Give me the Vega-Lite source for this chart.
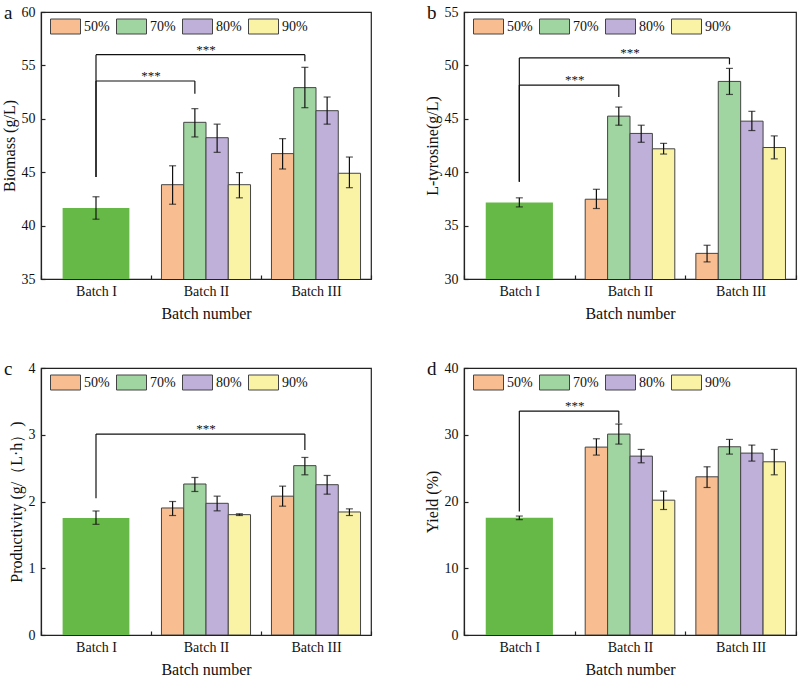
{
  "$schema": "https://vega.github.io/schema/vega-lite/v6.json",
  "padding": {"left": 0, "top": 3, "right": 2, "bottom": 0},
  "config": {
    "view": {"stroke": "#222", "strokeWidth": 1.2},
    "font": "Liberation Serif",
    "axis": {"domainColor": "#222", "domainWidth": 1.2, "tickColor": "#222", "tickWidth": 1.2, "labelFont": "Liberation Serif", "labelFontSize": 14, "labelColor": "#111", "titleFont": "Liberation Serif", "titleFontSize": 16, "titleFontWeight": "normal", "titleColor": "#111", "grid": false},
    "axisX": {"tickBand": "extent", "tickSize": -4, "labelAngle": 0, "labelPadding": 9, "titlePadding": 7},
    "axisY": {"tickSize": -4, "labelPadding": 10, "titlePadding": 4},
    "legend": {"orient": "none", "direction": "horizontal", "columns": 4, "symbolType": "M-1,-0.5H1V0.5H-1Z", "symbolSize": 900, "symbolStrokeColor": "#444", "symbolStrokeWidth": 1, "symbolOpacity": 1, "labelFont": "Liberation Serif", "labelFontSize": 14, "labelColor": "#111", "labelOffset": 3, "columnPadding": 4},
    "title": {"font": "Liberation Serif", "fontSize": 19, "fontWeight": "normal", "color": "#111", "anchor": "start", "frame": "group", "offset": -18, "baseline": "alphabetic", "dx": -37, "dy": 0}
  },
  "datasets": {
    "bars": [
      {"panel": "a", "batch": "Batch I", "conc": "ctrl", "value": 41.65, "lo": 40.6, "hi": 42.7},
      {"panel": "a", "batch": "Batch II", "conc": "50%", "value": 43.83, "lo": 42.0, "hi": 45.6},
      {"panel": "a", "batch": "Batch II", "conc": "70%", "value": 49.67, "lo": 48.3, "hi": 50.95},
      {"panel": "a", "batch": "Batch II", "conc": "80%", "value": 48.23, "lo": 46.86, "hi": 49.5},
      {"panel": "a", "batch": "Batch II", "conc": "90%", "value": 43.83, "lo": 42.6, "hi": 44.96},
      {"panel": "a", "batch": "Batch III", "conc": "50%", "value": 46.74, "lo": 45.3, "hi": 48.14},
      {"panel": "a", "batch": "Batch III", "conc": "70%", "value": 52.92, "lo": 51.04, "hi": 54.82},
      {"panel": "a", "batch": "Batch III", "conc": "80%", "value": 50.76, "lo": 49.5, "hi": 52.04},
      {"panel": "a", "batch": "Batch III", "conc": "90%", "value": 44.9, "lo": 43.55, "hi": 46.42},
      {"panel": "b", "batch": "Batch I", "conc": "ctrl", "value": 37.16, "lo": 36.75, "hi": 37.6},
      {"panel": "b", "batch": "Batch II", "conc": "50%", "value": 37.47, "lo": 36.6, "hi": 38.4},
      {"panel": "b", "batch": "Batch II", "conc": "70%", "value": 45.25, "lo": 44.4, "hi": 46.1},
      {"panel": "b", "batch": "Batch II", "conc": "80%", "value": 43.63, "lo": 42.8, "hi": 44.4},
      {"panel": "b", "batch": "Batch II", "conc": "90%", "value": 42.19, "lo": 41.7, "hi": 42.7},
      {"panel": "b", "batch": "Batch III", "conc": "50%", "value": 32.4, "lo": 31.6, "hi": 33.16},
      {"panel": "b", "batch": "Batch III", "conc": "70%", "value": 48.5, "lo": 47.28, "hi": 49.72},
      {"panel": "b", "batch": "Batch III", "conc": "80%", "value": 44.78, "lo": 43.9, "hi": 45.7},
      {"panel": "b", "batch": "Batch III", "conc": "90%", "value": 42.31, "lo": 41.25, "hi": 43.4},
      {"panel": "c", "batch": "Batch I", "conc": "ctrl", "value": 1.753, "lo": 1.658, "hi": 1.858},
      {"panel": "c", "batch": "Batch II", "conc": "50%", "value": 1.903, "lo": 1.79, "hi": 2.0},
      {"panel": "c", "batch": "Batch II", "conc": "70%", "value": 2.262, "lo": 2.15, "hi": 2.36},
      {"panel": "c", "batch": "Batch II", "conc": "80%", "value": 1.973, "lo": 1.86, "hi": 2.08},
      {"panel": "c", "batch": "Batch II", "conc": "90%", "value": 1.803, "lo": 1.79, "hi": 1.816},
      {"panel": "c", "batch": "Batch III", "conc": "50%", "value": 2.08, "lo": 1.93, "hi": 2.23},
      {"panel": "c", "batch": "Batch III", "conc": "70%", "value": 2.537, "lo": 2.4, "hi": 2.66},
      {"panel": "c", "batch": "Batch III", "conc": "80%", "value": 2.252, "lo": 2.11, "hi": 2.39},
      {"panel": "c", "batch": "Batch III", "conc": "90%", "value": 1.843, "lo": 1.79, "hi": 1.89},
      {"panel": "d", "batch": "Batch I", "conc": "ctrl", "value": 17.55, "lo": 17.28, "hi": 17.82},
      {"panel": "d", "batch": "Batch II", "conc": "50%", "value": 28.15, "lo": 26.95, "hi": 29.4},
      {"panel": "d", "batch": "Batch II", "conc": "70%", "value": 30.1, "lo": 28.6, "hi": 31.6},
      {"panel": "d", "batch": "Batch II", "conc": "80%", "value": 26.8, "lo": 25.8, "hi": 27.8},
      {"panel": "d", "batch": "Batch II", "conc": "90%", "value": 20.2, "lo": 18.8, "hi": 21.55},
      {"panel": "d", "batch": "Batch III", "conc": "50%", "value": 23.7, "lo": 22.1, "hi": 25.2},
      {"panel": "d", "batch": "Batch III", "conc": "70%", "value": 28.2, "lo": 27.1, "hi": 29.3},
      {"panel": "d", "batch": "Batch III", "conc": "80%", "value": 27.25, "lo": 26.05, "hi": 28.45},
      {"panel": "d", "batch": "Batch III", "conc": "90%", "value": 25.95, "lo": 24.0, "hi": 27.8}
    ],
    "brackets": [
      {"panel": "a", "batch": "Batch I", "to": "Batch III", "conc": "70%", "star": "Batch II", "ylo": 44.55, "ytop": 56.0, "yend": 55.4, "label": "***"},
      {"panel": "a", "batch": "Batch I", "to": "Batch II", "conc": "70%", "star": "Batch II", "ylo": 44.55, "ytop": 53.54, "yend": 52.35, "label": "***"},
      {"panel": "b", "batch": "Batch I", "to": "Batch III", "conc": "70%", "star": "Batch II", "ylo": 39.1, "ytop": 50.7, "yend": 50.1, "label": "***"},
      {"panel": "b", "batch": "Batch I", "to": "Batch II", "conc": "70%", "star": "Batch II", "ylo": 39.1, "ytop": 48.16, "yend": 47.03, "label": "***"},
      {"panel": "c", "batch": "Batch I", "to": "Batch III", "conc": "70%", "star": "Batch II", "ylo": 2.05, "ytop": 3.01, "yend": 2.77, "label": "***"},
      {"panel": "d", "batch": "Batch I", "to": "Batch II", "conc": "70%", "star": "Batch II", "ylo": 18.5, "ytop": 33.55, "yend": 31.7, "label": "***"}
    ]
  },
  "resolve": {"scale": {"color": "independent", "xOffset": "independent"}, "legend": {"color": "independent"}},
  "spacing": 37,
  "vconcat": [
    {
      "spacing": 50,
      "resolve": {"scale": {"color": "independent", "xOffset": "independent"}, "legend": {"color": "independent"}},
      "hconcat": [
        {
          "width": 330, "height": 267,
          "title": {"text": "a"},
          "layer": [
            {"data": {"name": "bars"}, "transform": [{"filter": "datum.panel === 'a' && datum.batch === 'Batch I'"}],
             "mark": {"type": "bar", "width": {"band": 0.607}, "color": "#66b947", "clip": true},
             "encoding": {
               "x": {"field": "batch", "type": "nominal", "sort": null, "scale": {"domain": ["Batch I", "Batch II", "Batch III"], "paddingInner": 0, "paddingOuter": 0}, "axis": {"title": "Batch number"}},
               "y": {"field": "value", "type": "quantitative", "scale": {"domain": [35, 60], "zero": false, "nice": false}, "axis": {"title": "Biomass (g/L)", "values": [35, 37.5, 40, 42.5, 45, 47.5, 50, 52.5, 55, 57.5, 60], "labelExpr": "datum.value % 5 === 0 ? datum.label : ''"}}
             }},
            {"data": {"name": "bars"}, "transform": [{"filter": "datum.panel === 'a' && datum.batch !== 'Batch I'"}],
             "mark": {"type": "bar", "stroke": "#444", "strokeWidth": 1, "clip": true},
             "encoding": {
               "x": {"field": "batch", "type": "nominal"},
               "xOffset": {"field": "conc", "type": "nominal", "scale": {"domain": ["50%", "70%", "80%", "90%"], "paddingInner": 0, "paddingOuter": 0.47}},
               "y": {"field": "value", "type": "quantitative"},
               "color": {"field": "conc", "type": "nominal", "scale": {"domain": ["50%", "70%", "80%", "90%"], "range": ["#f8be91", "#a0d4a0", "#beb0d8", "#faf3a5"]}, "legend": {"legendX": 9, "legendY": -1, "title": null}}
             }},
            {"data": {"name": "bars"}, "transform": [{"filter": "datum.panel === 'a' && datum.batch === 'Batch I'"}],
             "mark": {"type": "rule", "color": "#111", "strokeWidth": 1.2},
             "encoding": {"x": {"field": "batch", "type": "nominal"}, "y": {"field": "lo", "type": "quantitative"}, "y2": {"field": "hi"}}},
            {"data": {"name": "bars"}, "transform": [{"filter": "datum.panel === 'a' && datum.batch === 'Batch I'"}, {"fold": ["lo", "hi"], "as": ["end", "v"]}],
             "mark": {"type": "tick", "color": "#111", "size": 7, "thickness": 1.2},
             "encoding": {"x": {"field": "batch", "type": "nominal"}, "y": {"field": "v", "type": "quantitative"}}},
            {"data": {"name": "bars"}, "transform": [{"filter": "datum.panel === 'a' && datum.batch !== 'Batch I'"}],
             "mark": {"type": "rule", "color": "#111", "strokeWidth": 1.2},
             "encoding": {"x": {"field": "batch", "type": "nominal"}, "xOffset": {"field": "conc", "type": "nominal"}, "y": {"field": "lo", "type": "quantitative"}, "y2": {"field": "hi"}}},
            {"data": {"name": "bars"}, "transform": [{"filter": "datum.panel === 'a' && datum.batch !== 'Batch I'"}, {"fold": ["lo", "hi"], "as": ["end", "v"]}],
             "mark": {"type": "tick", "color": "#111", "size": 7, "thickness": 1.2},
             "encoding": {"x": {"field": "batch", "type": "nominal"}, "xOffset": {"field": "conc", "type": "nominal"}, "y": {"field": "v", "type": "quantitative"}}},
            {"data": {"name": "brackets"}, "transform": [{"filter": "datum.panel === 'a'"}],
             "mark": {"type": "rule", "color": "#111", "strokeWidth": 1.2},
             "encoding": {"x": {"field": "batch", "type": "nominal"}, "y": {"field": "ylo", "type": "quantitative"}, "y2": {"field": "ytop"}}},
            {"data": {"name": "brackets"}, "transform": [{"filter": "datum.panel === 'a'"}],
             "mark": {"type": "rule", "color": "#111", "strokeWidth": 1.2, "x2Offset": -11.1},
             "encoding": {"x": {"field": "batch", "type": "nominal"}, "x2": {"field": "to"}, "y": {"field": "ytop", "type": "quantitative"}}},
            {"data": {"name": "brackets"}, "transform": [{"filter": "datum.panel === 'a'"}],
             "mark": {"type": "rule", "color": "#111", "strokeWidth": 1.2},
             "encoding": {"x": {"field": "to", "type": "nominal"}, "xOffset": {"field": "conc", "type": "nominal"}, "y": {"field": "ytop", "type": "quantitative"}, "y2": {"field": "yend"}}},
            {"data": {"name": "brackets"}, "transform": [{"filter": "datum.panel === 'a' && datum.to === 'Batch III'"}],
             "mark": {"type": "text", "fontSize": 13, "baseline": "alphabetic", "dy": -1, "color": "#111"},
             "encoding": {"x": {"field": "star", "type": "nominal", "bandPosition": 0.5}, "y": {"field": "ytop", "type": "quantitative"}, "text": {"field": "label"}}},
            {"data": {"name": "brackets"}, "transform": [{"filter": "datum.panel === 'a' && datum.to === 'Batch II'"}],
             "mark": {"type": "text", "fontSize": 13, "baseline": "alphabetic", "dy": -1, "color": "#111"},
             "encoding": {"x": {"field": "star", "type": "nominal", "bandPosition": 0}, "y": {"field": "ytop", "type": "quantitative"}, "text": {"field": "label"}}}
          ]
        },
        {
          "width": 332, "height": 267,
          "title": {"text": "b"},
          "layer": [
            {"data": {"name": "bars"}, "transform": [{"filter": "datum.panel === 'b' && datum.batch === 'Batch I'"}],
             "mark": {"type": "bar", "width": {"band": 0.607}, "color": "#66b947", "clip": true},
             "encoding": {
               "x": {"field": "batch", "type": "nominal", "sort": null, "scale": {"domain": ["Batch I", "Batch II", "Batch III"], "paddingInner": 0, "paddingOuter": 0}, "axis": {"title": "Batch number"}},
               "y": {"field": "value", "type": "quantitative", "scale": {"domain": [30, 55], "zero": false, "nice": false}, "axis": {"title": "L-tyrosine(g/L)", "values": [30, 32.5, 35, 37.5, 40, 42.5, 45, 47.5, 50, 52.5, 55], "labelExpr": "datum.value % 5 === 0 ? datum.label : ''"}}
             }},
            {"data": {"name": "bars"}, "transform": [{"filter": "datum.panel === 'b' && datum.batch !== 'Batch I'"}],
             "mark": {"type": "bar", "stroke": "#444", "strokeWidth": 1, "clip": true},
             "encoding": {
               "x": {"field": "batch", "type": "nominal"},
               "xOffset": {"field": "conc", "type": "nominal", "scale": {"domain": ["50%", "70%", "80%", "90%"], "paddingInner": 0, "paddingOuter": 0.47}},
               "y": {"field": "value", "type": "quantitative"},
               "color": {"field": "conc", "type": "nominal", "scale": {"domain": ["50%", "70%", "80%", "90%"], "range": ["#f8be91", "#a0d4a0", "#beb0d8", "#faf3a5"]}, "legend": {"legendX": 9, "legendY": -1, "title": null}}
             }},
            {"data": {"name": "bars"}, "transform": [{"filter": "datum.panel === 'b' && datum.batch === 'Batch I'"}],
             "mark": {"type": "rule", "color": "#111", "strokeWidth": 1.2},
             "encoding": {"x": {"field": "batch", "type": "nominal"}, "y": {"field": "lo", "type": "quantitative"}, "y2": {"field": "hi"}}},
            {"data": {"name": "bars"}, "transform": [{"filter": "datum.panel === 'b' && datum.batch === 'Batch I'"}, {"fold": ["lo", "hi"], "as": ["end", "v"]}],
             "mark": {"type": "tick", "color": "#111", "size": 7, "thickness": 1.2},
             "encoding": {"x": {"field": "batch", "type": "nominal"}, "y": {"field": "v", "type": "quantitative"}}},
            {"data": {"name": "bars"}, "transform": [{"filter": "datum.panel === 'b' && datum.batch !== 'Batch I'"}],
             "mark": {"type": "rule", "color": "#111", "strokeWidth": 1.2},
             "encoding": {"x": {"field": "batch", "type": "nominal"}, "xOffset": {"field": "conc", "type": "nominal"}, "y": {"field": "lo", "type": "quantitative"}, "y2": {"field": "hi"}}},
            {"data": {"name": "bars"}, "transform": [{"filter": "datum.panel === 'b' && datum.batch !== 'Batch I'"}, {"fold": ["lo", "hi"], "as": ["end", "v"]}],
             "mark": {"type": "tick", "color": "#111", "size": 7, "thickness": 1.2},
             "encoding": {"x": {"field": "batch", "type": "nominal"}, "xOffset": {"field": "conc", "type": "nominal"}, "y": {"field": "v", "type": "quantitative"}}},
            {"data": {"name": "brackets"}, "transform": [{"filter": "datum.panel === 'b'"}],
             "mark": {"type": "rule", "color": "#111", "strokeWidth": 1.2},
             "encoding": {"x": {"field": "batch", "type": "nominal"}, "y": {"field": "ylo", "type": "quantitative"}, "y2": {"field": "ytop"}}},
            {"data": {"name": "brackets"}, "transform": [{"filter": "datum.panel === 'b'"}],
             "mark": {"type": "rule", "color": "#111", "strokeWidth": 1.2, "x2Offset": -11.2},
             "encoding": {"x": {"field": "batch", "type": "nominal"}, "x2": {"field": "to"}, "y": {"field": "ytop", "type": "quantitative"}}},
            {"data": {"name": "brackets"}, "transform": [{"filter": "datum.panel === 'b'"}],
             "mark": {"type": "rule", "color": "#111", "strokeWidth": 1.2},
             "encoding": {"x": {"field": "to", "type": "nominal"}, "xOffset": {"field": "conc", "type": "nominal"}, "y": {"field": "ytop", "type": "quantitative"}, "y2": {"field": "yend"}}},
            {"data": {"name": "brackets"}, "transform": [{"filter": "datum.panel === 'b' && datum.to === 'Batch III'"}],
             "mark": {"type": "text", "fontSize": 13, "baseline": "alphabetic", "dy": -1, "color": "#111"},
             "encoding": {"x": {"field": "star", "type": "nominal", "bandPosition": 0.5}, "y": {"field": "ytop", "type": "quantitative"}, "text": {"field": "label"}}},
            {"data": {"name": "brackets"}, "transform": [{"filter": "datum.panel === 'b' && datum.to === 'Batch II'"}],
             "mark": {"type": "text", "fontSize": 13, "baseline": "alphabetic", "dy": -1, "color": "#111"},
             "encoding": {"x": {"field": "star", "type": "nominal", "bandPosition": 0}, "y": {"field": "ytop", "type": "quantitative"}, "text": {"field": "label"}}}
          ]
        }
      ]
    },
    {
      "spacing": 50,
      "resolve": {"scale": {"color": "independent", "xOffset": "independent"}, "legend": {"color": "independent"}},
      "hconcat": [
        {
          "width": 330, "height": 267,
          "title": {"text": "c"},
          "layer": [
            {"data": {"name": "bars"}, "transform": [{"filter": "datum.panel === 'c' && datum.batch === 'Batch I'"}],
             "mark": {"type": "bar", "width": {"band": 0.607}, "color": "#66b947", "clip": true},
             "encoding": {
               "x": {"field": "batch", "type": "nominal", "sort": null, "scale": {"domain": ["Batch I", "Batch II", "Batch III"], "paddingInner": 0, "paddingOuter": 0}, "axis": {"title": "Batch number"}},
               "y": {"field": "value", "type": "quantitative", "scale": {"domain": [0, 4], "nice": false}, "axis": {"title": "Productivity (g/（L·h）)", "values": [0, 0.5, 1, 1.5, 2, 2.5, 3, 3.5, 4], "format": "~g", "labelExpr": "datum.value % 1 === 0 ? datum.label : ''"}}
             }},
            {"data": {"name": "bars"}, "transform": [{"filter": "datum.panel === 'c' && datum.batch !== 'Batch I'"}],
             "mark": {"type": "bar", "stroke": "#444", "strokeWidth": 1, "clip": true},
             "encoding": {
               "x": {"field": "batch", "type": "nominal"},
               "xOffset": {"field": "conc", "type": "nominal", "scale": {"domain": ["50%", "70%", "80%", "90%"], "paddingInner": 0, "paddingOuter": 0.47}},
               "y": {"field": "value", "type": "quantitative"},
               "color": {"field": "conc", "type": "nominal", "scale": {"domain": ["50%", "70%", "80%", "90%"], "range": ["#f8be91", "#a0d4a0", "#beb0d8", "#faf3a5"]}, "legend": {"legendX": 9, "legendY": -1, "title": null}}
             }},
            {"data": {"name": "bars"}, "transform": [{"filter": "datum.panel === 'c' && datum.batch === 'Batch I'"}],
             "mark": {"type": "rule", "color": "#111", "strokeWidth": 1.2},
             "encoding": {"x": {"field": "batch", "type": "nominal"}, "y": {"field": "lo", "type": "quantitative"}, "y2": {"field": "hi"}}},
            {"data": {"name": "bars"}, "transform": [{"filter": "datum.panel === 'c' && datum.batch === 'Batch I'"}, {"fold": ["lo", "hi"], "as": ["end", "v"]}],
             "mark": {"type": "tick", "color": "#111", "size": 7, "thickness": 1.2},
             "encoding": {"x": {"field": "batch", "type": "nominal"}, "y": {"field": "v", "type": "quantitative"}}},
            {"data": {"name": "bars"}, "transform": [{"filter": "datum.panel === 'c' && datum.batch !== 'Batch I'"}],
             "mark": {"type": "rule", "color": "#111", "strokeWidth": 1.2},
             "encoding": {"x": {"field": "batch", "type": "nominal"}, "xOffset": {"field": "conc", "type": "nominal"}, "y": {"field": "lo", "type": "quantitative"}, "y2": {"field": "hi"}}},
            {"data": {"name": "bars"}, "transform": [{"filter": "datum.panel === 'c' && datum.batch !== 'Batch I'"}, {"fold": ["lo", "hi"], "as": ["end", "v"]}],
             "mark": {"type": "tick", "color": "#111", "size": 7, "thickness": 1.2},
             "encoding": {"x": {"field": "batch", "type": "nominal"}, "xOffset": {"field": "conc", "type": "nominal"}, "y": {"field": "v", "type": "quantitative"}}},
            {"data": {"name": "brackets"}, "transform": [{"filter": "datum.panel === 'c'"}],
             "mark": {"type": "rule", "color": "#111", "strokeWidth": 1.2},
             "encoding": {"x": {"field": "batch", "type": "nominal"}, "y": {"field": "ylo", "type": "quantitative"}, "y2": {"field": "ytop"}}},
            {"data": {"name": "brackets"}, "transform": [{"filter": "datum.panel === 'c'"}],
             "mark": {"type": "rule", "color": "#111", "strokeWidth": 1.2, "x2Offset": -11.1},
             "encoding": {"x": {"field": "batch", "type": "nominal"}, "x2": {"field": "to"}, "y": {"field": "ytop", "type": "quantitative"}}},
            {"data": {"name": "brackets"}, "transform": [{"filter": "datum.panel === 'c'"}],
             "mark": {"type": "rule", "color": "#111", "strokeWidth": 1.2},
             "encoding": {"x": {"field": "to", "type": "nominal"}, "xOffset": {"field": "conc", "type": "nominal"}, "y": {"field": "ytop", "type": "quantitative"}, "y2": {"field": "yend"}}},
            {"data": {"name": "brackets"}, "transform": [{"filter": "datum.panel === 'c' && datum.to === 'Batch III'"}],
             "mark": {"type": "text", "fontSize": 13, "baseline": "alphabetic", "dy": -1, "color": "#111"},
             "encoding": {"x": {"field": "star", "type": "nominal", "bandPosition": 0.5}, "y": {"field": "ytop", "type": "quantitative"}, "text": {"field": "label"}}}
          ]
        },
        {
          "width": 332, "height": 267,
          "title": {"text": "d"},
          "layer": [
            {"data": {"name": "bars"}, "transform": [{"filter": "datum.panel === 'd' && datum.batch === 'Batch I'"}],
             "mark": {"type": "bar", "width": {"band": 0.607}, "color": "#66b947", "clip": true},
             "encoding": {
               "x": {"field": "batch", "type": "nominal", "sort": null, "scale": {"domain": ["Batch I", "Batch II", "Batch III"], "paddingInner": 0, "paddingOuter": 0}, "axis": {"title": "Batch number"}},
               "y": {"field": "value", "type": "quantitative", "scale": {"domain": [0, 40], "nice": false}, "axis": {"title": "Yield (%)", "values": [0, 5, 10, 15, 20, 25, 30, 35, 40], "labelExpr": "datum.value % 10 === 0 ? datum.label : ''"}}
             }},
            {"data": {"name": "bars"}, "transform": [{"filter": "datum.panel === 'd' && datum.batch !== 'Batch I'"}],
             "mark": {"type": "bar", "stroke": "#444", "strokeWidth": 1, "clip": true},
             "encoding": {
               "x": {"field": "batch", "type": "nominal"},
               "xOffset": {"field": "conc", "type": "nominal", "scale": {"domain": ["50%", "70%", "80%", "90%"], "paddingInner": 0, "paddingOuter": 0.47}},
               "y": {"field": "value", "type": "quantitative"},
               "color": {"field": "conc", "type": "nominal", "scale": {"domain": ["50%", "70%", "80%", "90%"], "range": ["#f8be91", "#a0d4a0", "#beb0d8", "#faf3a5"]}, "legend": {"legendX": 9, "legendY": -1, "title": null}}
             }},
            {"data": {"name": "bars"}, "transform": [{"filter": "datum.panel === 'd' && datum.batch === 'Batch I'"}],
             "mark": {"type": "rule", "color": "#111", "strokeWidth": 1.2},
             "encoding": {"x": {"field": "batch", "type": "nominal"}, "y": {"field": "lo", "type": "quantitative"}, "y2": {"field": "hi"}}},
            {"data": {"name": "bars"}, "transform": [{"filter": "datum.panel === 'd' && datum.batch === 'Batch I'"}, {"fold": ["lo", "hi"], "as": ["end", "v"]}],
             "mark": {"type": "tick", "color": "#111", "size": 7, "thickness": 1.2},
             "encoding": {"x": {"field": "batch", "type": "nominal"}, "y": {"field": "v", "type": "quantitative"}}},
            {"data": {"name": "bars"}, "transform": [{"filter": "datum.panel === 'd' && datum.batch !== 'Batch I'"}],
             "mark": {"type": "rule", "color": "#111", "strokeWidth": 1.2},
             "encoding": {"x": {"field": "batch", "type": "nominal"}, "xOffset": {"field": "conc", "type": "nominal"}, "y": {"field": "lo", "type": "quantitative"}, "y2": {"field": "hi"}}},
            {"data": {"name": "bars"}, "transform": [{"filter": "datum.panel === 'd' && datum.batch !== 'Batch I'"}, {"fold": ["lo", "hi"], "as": ["end", "v"]}],
             "mark": {"type": "tick", "color": "#111", "size": 7, "thickness": 1.2},
             "encoding": {"x": {"field": "batch", "type": "nominal"}, "xOffset": {"field": "conc", "type": "nominal"}, "y": {"field": "v", "type": "quantitative"}}},
            {"data": {"name": "brackets"}, "transform": [{"filter": "datum.panel === 'd'"}],
             "mark": {"type": "rule", "color": "#111", "strokeWidth": 1.2},
             "encoding": {"x": {"field": "batch", "type": "nominal"}, "y": {"field": "ylo", "type": "quantitative"}, "y2": {"field": "ytop"}}},
            {"data": {"name": "brackets"}, "transform": [{"filter": "datum.panel === 'd'"}],
             "mark": {"type": "rule", "color": "#111", "strokeWidth": 1.2, "x2Offset": -11.2},
             "encoding": {"x": {"field": "batch", "type": "nominal"}, "x2": {"field": "to"}, "y": {"field": "ytop", "type": "quantitative"}}},
            {"data": {"name": "brackets"}, "transform": [{"filter": "datum.panel === 'd'"}],
             "mark": {"type": "rule", "color": "#111", "strokeWidth": 1.2},
             "encoding": {"x": {"field": "to", "type": "nominal"}, "xOffset": {"field": "conc", "type": "nominal"}, "y": {"field": "ytop", "type": "quantitative"}, "y2": {"field": "yend"}}},
            {"data": {"name": "brackets"}, "transform": [{"filter": "datum.panel === 'd' && datum.to === 'Batch II'"}],
             "mark": {"type": "text", "fontSize": 13, "baseline": "alphabetic", "dy": -1, "color": "#111"},
             "encoding": {"x": {"field": "star", "type": "nominal", "bandPosition": 0}, "y": {"field": "ytop", "type": "quantitative"}, "text": {"field": "label"}}}
          ]
        }
      ]
    }
  ]
}
